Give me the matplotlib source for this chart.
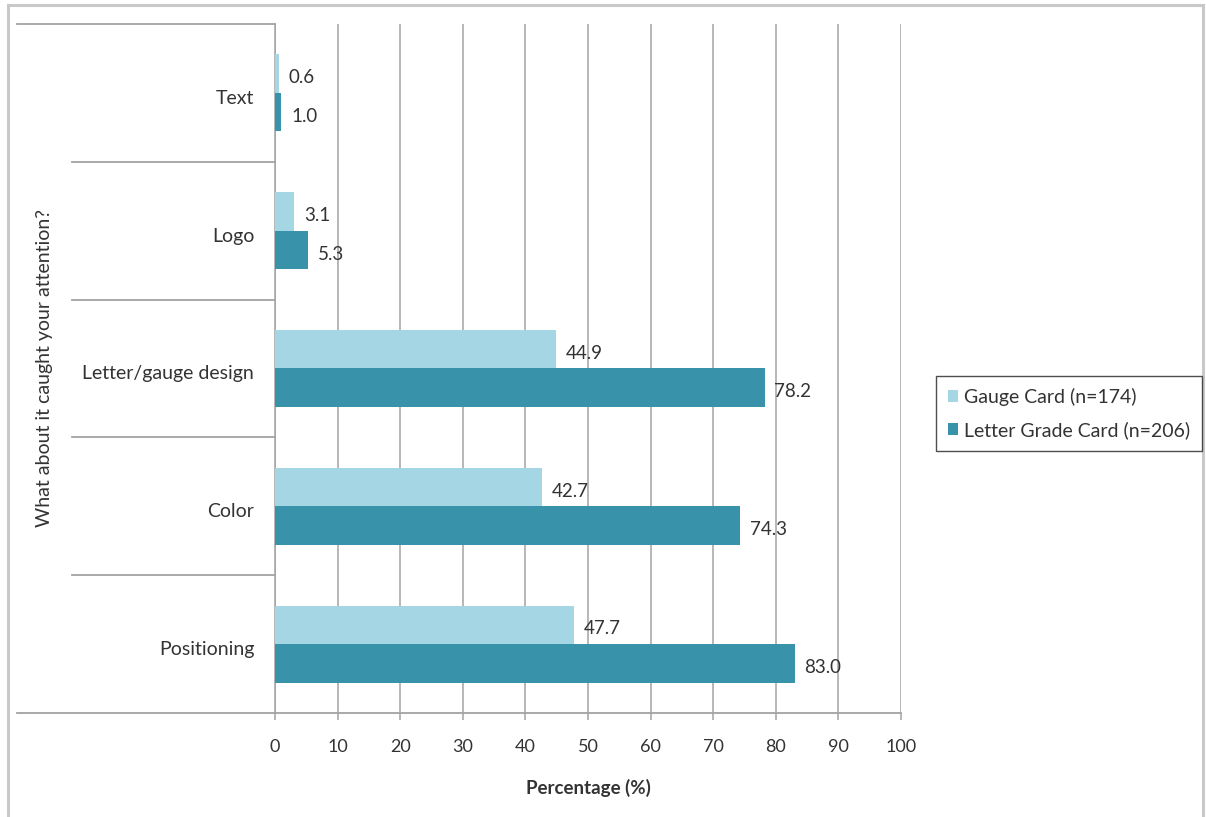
import matplotlib
matplotlib.use("Agg")
import matplotlib.pyplot as plt
from matplotlib.lines import Line2D
from matplotlib.transforms import blended_transform_factory, ScaledTranslation
import numpy as np

categories = ["Positioning", "Color", "Letter/gauge design", "Logo", "Text"]
gauge_card = [47.7, 42.7, 44.9, 3.1, 0.6]
letter_card = [83.0, 74.3, 78.2, 5.3, 1.0]
series_names = ["Gauge Card (n=174)", "Letter Grade Card (n=206)"]
x_ticks = [0, 10, 20, 30, 40, 50, 60, 70, 80, 90, 100]

LIGHT = "#A4D7E3"
DARK = "#3893AA"
GRID = "#A3A3A3"
TEXT = "#333333"

plt.rcParams["font.family"] = ["Lato", "DejaVu Sans"]

W, H = 1206, 817
fig = plt.figure(figsize=(W / 100, H / 100), dpi=100)
fig.patch.set_facecolor("white")

x0, x1, y0, y1 = 275, 901, 24, 713
ax = fig.add_axes([x0 / W, 1 - y1 / H, (x1 - x0) / W, (y1 - y0) / H])

# shift category labels a few pixels downward
down = ScaledTranslation(0, -4 / 100, fig.dpi_scale_trans)

pos = np.arange(len(categories)) + 0.5
bh = 0.28
b1 = ax.barh(pos + bh / 2, gauge_card, height=bh, color=LIGHT, zorder=3,
             label=series_names[0])
b2 = ax.barh(pos - bh / 2, letter_card, height=bh, color=DARK, zorder=3,
             label=series_names[1])
for bars in (b1, b2):
    for t in ax.bar_label(bars, fmt="%.1f", padding=7, fontsize=13.5,
                          color=TEXT, zorder=4):
        t.xyann = (7, -3)

ax.set_xlim(0, 100)
ax.set_ylim(0, len(categories))
ax.set_xticks(x_ticks)
ax.set_yticks(pos)
ax.set_yticklabels(categories)
ax.tick_params(axis="y", length=0, pad=15, labelsize=14, labelcolor=TEXT)
ax.tick_params(axis="x", length=5, width=1.1, color=GRID, pad=14,
               labelsize=13, labelcolor=TEXT)
for t in ax.get_yticklabels():
    t.set_transform(t.get_transform() + down)

ax.grid(axis="x", color=GRID, linewidth=1.1, zorder=0)
ax.set_axisbelow(True)
for s in ("top", "right", "bottom"):
    ax.spines[s].set_visible(False)
ax.spines["left"].set_color(GRID)
ax.spines["left"].set_linewidth(1.1)

# category separators extending into the label area
tr = blended_transform_factory(ax.transAxes, ax.transData)
outer = (17 - x0) / (x1 - x0)
inner = (72 - x0) / (x1 - x0)
n = len(categories)
for k in range(n + 1):
    if k == 0:
        xs = [outer, 1.0]
    elif k == n:
        xs = [outer, 0.0]
    else:
        xs = [inner, 0.0]
    ax.add_line(Line2D(xs, [k, k], transform=tr, color=GRID, lw=1.3,
                       clip_on=False, zorder=2))

fig.text(45 / W, 1 - 368 / H, "What about it caught your attention?",
         rotation=90, ha="center", va="center", fontsize=14, color=TEXT)
fig.text(588 / W, 1 - 788 / H, "Percentage (%)", ha="center", va="center",
         fontsize=13.5, fontweight="bold", color=TEXT)

leg = fig.legend(handles=[b1, b2], loc="upper left",
                 bbox_to_anchor=(936 / W, 1 - 376 / H), fontsize=14,
                 frameon=True, fancybox=False, handlelength=0.55,
                 handleheight=0.55, handletextpad=0.3, borderpad=0.6,
                 labelspacing=0.8, borderaxespad=0)
leg.get_frame().set_edgecolor("#222222")
leg.get_frame().set_linewidth(1.0)
for t in leg.get_texts():
    t.set_color(TEXT)

# outer chart frame
fc = "#C9C9C9"
fig.add_artist(Line2D([8 / W, 1203 / W], [1 - 5 / H, 1 - 5 / H], color=fc,
                      lw=2.2, transform=fig.transFigure))
fig.add_artist(Line2D([8 / W, 8 / W], [0, 1 - 5 / H], color=fc, lw=2.2,
                      transform=fig.transFigure))
fig.add_artist(Line2D([1203 / W, 1203 / W], [0, 1 - 5 / H], color=fc, lw=2.2,
                      transform=fig.transFigure))

fig.savefig("out.png", dpi=100)
